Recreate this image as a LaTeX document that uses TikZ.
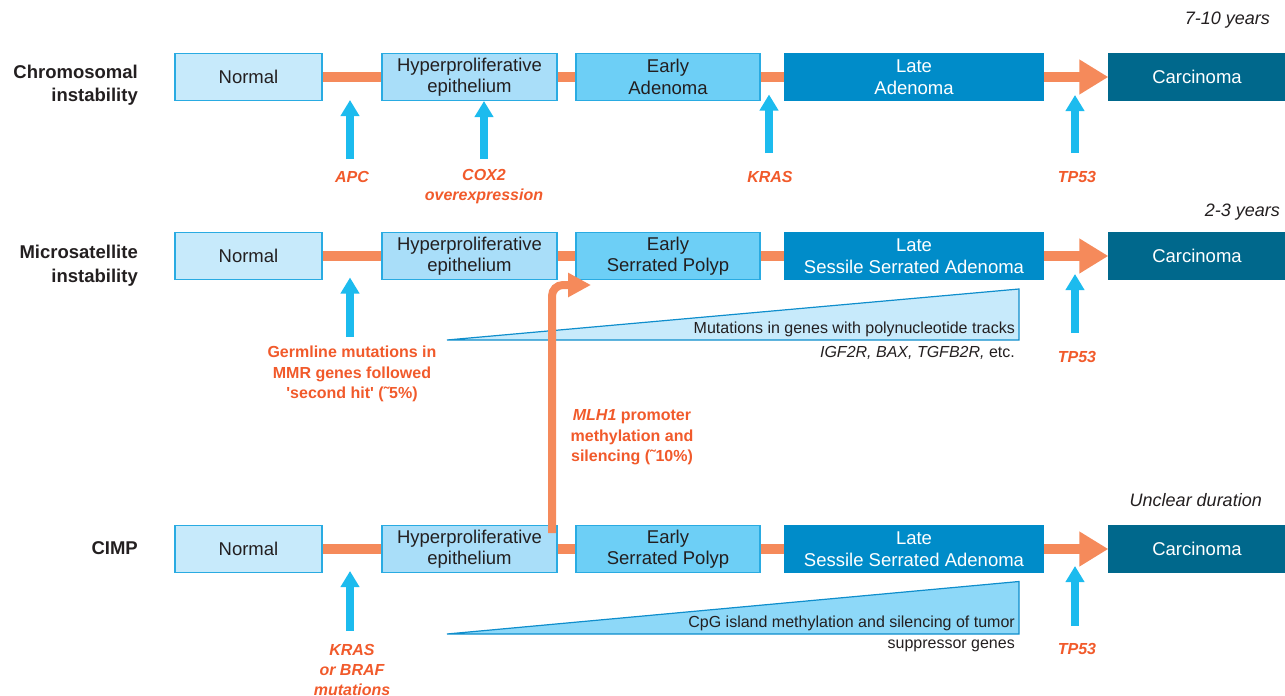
\documentclass[tikz,border=0pt]{standalone}
\usepackage{fontspec}
\setmainfont{Liberation Sans}[Ligatures=TeXOff]
\usetikzlibrary{arrows.meta}
\definecolor{bordc}{HTML}{29ABE2}
\definecolor{fnorm}{HTML}{C7EAFB}
\definecolor{fhyp}{HTML}{A9DEF9}
\definecolor{fearly}{HTML}{6DCFF6}
\definecolor{flate}{HTML}{008CC9}
\definecolor{fcarc}{HTML}{00688C}
\definecolor{connc}{HTML}{F58A5B}
\definecolor{labc}{HTML}{F15A2B}
\definecolor{barrow}{HTML}{1CBBEE}
\definecolor{txtc}{HTML}{231F20}
\definecolor{trione}{HTML}{C7EAFB}
\definecolor{tritwo}{HTML}{8DD8F8}
\definecolor{triedge}{HTML}{0F8ECC}
\begin{document}
\begin{tikzpicture}[x=1pt,y=-1pt,
  stage/.style={draw=bordc, line width=1.3pt, minimum height=47pt, inner sep=0pt, align=center,
    font=\fontsize{18.5}{21.5}\selectfont, text=txtc},
  darkstage/.style={stage, text=white},
  link/.style={draw=connc, line width=9.5pt},
  bigtip/.style={-{Triangle[width=33pt,length=29pt]}},
  uparrow/.style={draw=barrow, line width=8pt, -{Triangle[width=18pt,length=16pt]}},
  rowlab/.style={anchor=east, align=right, inner sep=0pt, font=\bfseries\fontsize{18.5}{23.5}\selectfont, text=txtc},
  gene/.style={align=center, font=\bfseries\itshape\fontsize{16}{20}\selectfont, text=labc},
  genebf/.style={align=center, font=\bfseries\fontsize{16}{20.5}\selectfont, text=labc},
  dur/.style={anchor=east, inner sep=0pt, font=\itshape\fontsize{18}{21}\selectfont, text=txtc},
  tritext/.style={anchor=east, font=\fontsize{16}{19}\selectfont, text=txtc, inner sep=0pt},
  triangle/.style={draw=triedge, line width=1.2pt}
]
\useasboundingbox (0,0) rectangle (1285,696);

% ---------- Row 1 ----------
\node[rowlab] (r1) at (138,85) {Chromosomal\\instability};
\node[dur] (d1) at (1270,20) {7-10 years};
\node[stage, fill=fnorm, minimum width=147pt] (n1) at (248.5,77) {Normal};
\node[stage, fill=fhyp, minimum width=175pt] (h1) at (469.5,77) {Hyperproliferative\\epithelium};
\node[stage, fill=fearly, minimum width=184pt] (e1) at (668,77) {Early\\Adenoma};
\node[darkstage, fill=flate, draw=flate, minimum width=258pt] (l1) at (914,77) {Late\\Adenoma};
\node[darkstage, fill=fcarc, draw=fcarc, minimum width=176pt] (c1) at (1197,77) {Carcinoma};
\draw[link] (n1.east) -- (h1.west);
\draw[link] (h1.east) -- (e1.west);
\draw[link] (e1.east) -- (l1.west);
\draw[link, bigtip] (l1.east) -- (c1.west);

\node[gene] (g1) at (352,177) {APC};
\node[gene] (g2) at (484,187) {COX2\\overexpression};
\node[gene] (g3) at (770,177) {KRAS};
\node[gene] (g4) at (1077,177) {TP53};
\coordinate (u1a) at (350,159); \coordinate (u1b) at (350,100);
\coordinate (u2a) at (484,159); \coordinate (u2b) at (484,101);
\coordinate (u3a) at (769,153); \coordinate (u3b) at (769,94.5);
\coordinate (u4a) at (1075,153); \coordinate (u4b) at (1075,95);
\draw[uparrow] (u1a) -- (u1b);
\draw[uparrow] (u2a) -- (u2b);
\draw[uparrow] (u3a) -- (u3b);
\draw[uparrow] (u4a) -- (u4b);

% ---------- Row 2 ----------
\node[rowlab] (r2) at (138,265.5) {Microsatellite\\instability};
\node[dur] (d2) at (1280,212) {2-3 years};
\node[stage, fill=fnorm, minimum width=147pt] (n2) at (248.5,256) {Normal};
\node[stage, fill=fhyp, minimum width=175pt] (h2) at (469.5,256) {Hyperproliferative\\epithelium};
\node[stage, fill=fearly, minimum width=184pt] (e2) at (668,256) {Early\\Serrated Polyp};
\node[darkstage, fill=flate, draw=flate, minimum width=258pt] (l2) at (914,256) {Late\\Sessile Serrated Adenoma};
\node[darkstage, fill=fcarc, draw=fcarc, minimum width=176pt] (c2) at (1197,256) {Carcinoma};
\draw[link] (n2.east) -- (h2.west);
\draw[link] (h2.east) -- (e2.west);
\draw[link] (e2.east) -- (l2.west);
\draw[link, bigtip] (l2.east) -- (c2.west);

\draw[triangle, fill=trione] (447,340) -- (1019,289) -- (1019,340) -- cycle;
\node[tritext] (t1) at (1015,329) {Mutations in genes with polynucleotide tracks};
\node[tritext] (t2) at (1015,352.5) {\itshape IGF2R, BAX, TGFB2R,\upshape{} etc.};

\node[genebf] (g5) at (352,374) {Germline mutations in\\MMR genes followed\\'second hit' (˜5\%)};
\node[gene] (g6) at (1077,356.5) {TP53};
\coordinate (u5a) at (350,337); \coordinate (u5b) at (350,277.5);
\coordinate (u6a) at (1075,333); \coordinate (u6b) at (1075,274);
\draw[uparrow] (u5a) -- (u5b);
\draw[uparrow] (u6a) -- (u6b);

% ---------- Row 3 ----------
\node[rowlab] (r3) at (138,548.5) {CIMP};
\node[dur] (d3) at (1262,500.5) {Unclear duration};
\node[stage, fill=fnorm, minimum width=147pt] (n3) at (248.5,549) {Normal};
\node[stage, fill=fhyp, minimum width=175pt] (h3) at (469.5,549) {Hyperproliferative\\epithelium};
\node[stage, fill=fearly, minimum width=184pt] (e3) at (668,549) {Early\\Serrated Polyp};
\node[darkstage, fill=flate, draw=flate, minimum width=258pt] (l3) at (914,549) {Late\\Sessile Serrated Adenoma};
\node[darkstage, fill=fcarc, draw=fcarc, minimum width=176pt] (c3) at (1197,549) {Carcinoma};
\draw[link] (n3.east) -- (h3.west);
\draw[link] (h3.east) -- (e3.west);
\draw[link] (e3.east) -- (l3.west);
\draw[link, bigtip] (l3.east) -- (c3.west);

\draw[triangle, fill=tritwo] (447,634) -- (1019,581.5) -- (1019,634) -- cycle;
\node[tritext] (t3) at (1015,623) {CpG island methylation and silencing of tumor};
\node[tritext] (t4) at (1015,646) {suppressor genes};

\node[gene] (g7) at (352,669.5) {KRAS\\or BRAF\\mutations};
\node[gene] (g8) at (1077,649) {TP53};
\coordinate (u7a) at (350,631); \coordinate (u7b) at (350,571);
\coordinate (u8a) at (1075,625.5); \coordinate (u8b) at (1075,566);
\draw[uparrow] (u7a) -- (u7b);
\draw[uparrow] (u8a) -- (u8b);

% ---------- MLH1 switch arrow ----------
\coordinate (m1) at (552,533);
\coordinate (m2) at (591,285);
\draw[link, line width=8pt, rounded corners=11pt, -{Triangle[width=23pt,length=23pt]}] (m1) |- (m2);
\node[genebf] (g9) at (632,437.5) {\itshape MLH1\upshape{} promoter\\methylation and\\silencing (˜10\%)};
\end{tikzpicture}
\end{document}
